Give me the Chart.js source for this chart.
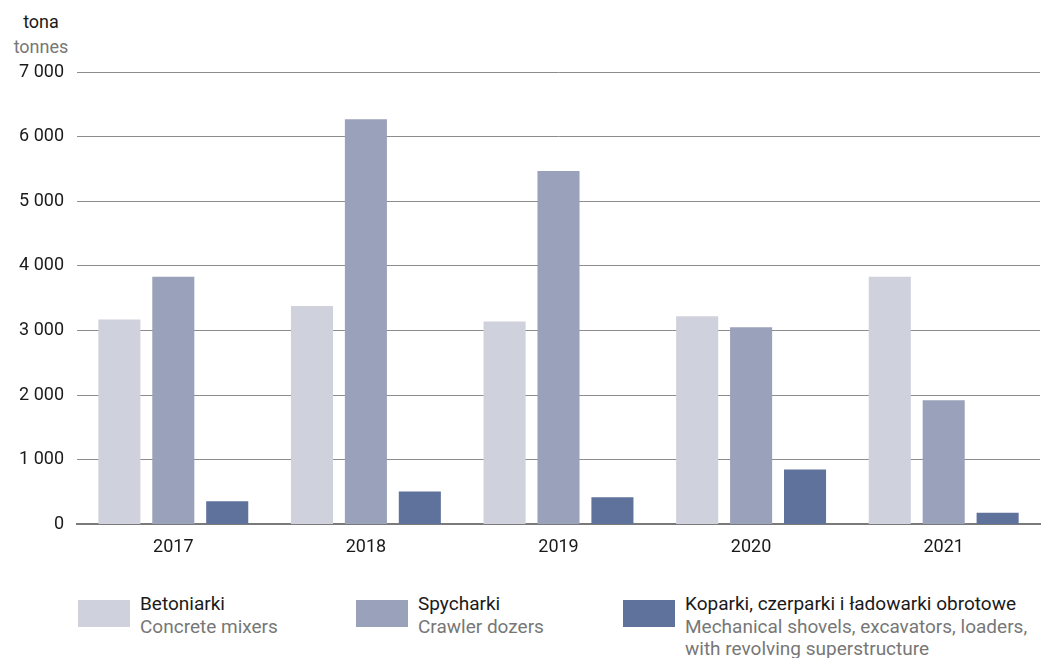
<!DOCTYPE html>
<html lang="pl">
<head>
    <meta charset="UTF-8">
    <title>Betoniarki, spycharki, koparki</title>
    <script src="https://cdn.jsdelivr.net/npm/chart.js"></script>
    <style>
        body {
            margin: 0;
            background: #FFFFFF;
            font-family: Roboto, "Open Sans", sans-serif;
        }
        .wrap {
            position: relative;
            width: 1042px;
            height: 658px;
        }
        .chart-box {
            position: absolute;
            left: 0;
            top: 0;
            width: 1042px;
            height: 570px;
        }
        .unit {
            position: absolute;
            left: 0;
            width: 82px;
            text-align: center;
            font-size: 18px;
        }
        .unit.pl { top: 11px; color: #1a1a1a; }
        .unit.en { top: 36px; color: #777777; }
        .legend-item {
            position: absolute;
            top: 593px;
            font-size: 19px;
            line-height: 22.5px;
        }
        .legend-item .swatch {
            position: absolute;
            left: 0;
            top: 7px;
            width: 52px;
            height: 27px;
        }
        .legend-item .txt {
            position: absolute;
            left: 62px;
            top: 0;
            white-space: nowrap;
        }
        .legend-item .pl { color: #1a1a1a; }
        .legend-item .en { color: #777777; }
    </style>
</head>
<body>
<div class="wrap">
    <div class="unit pl">tona</div>
    <div class="unit en">tonnes</div>
    <div class="chart-box"><canvas id="chart"></canvas></div>
    <div id="legend"></div>
</div>
<script>
    const years = ["2017", "2018", "2019", "2020", "2021"];
    const concreteMixers = [3170, 3380, 3140, 3220, 3830];
    const crawlerDozers = [3830, 6270, 5470, 3050, 1920];
    const shovelsExcavators = [360, 510, 420, 850, 180];
    const yTicks = [0, 1000, 2000, 3000, 4000, 5000, 6000, 7000];

    const series = [
        { data: concreteMixers, color: "#CFD1DD", pl: "Betoniarki", en: ["Concrete mixers"], left: 78 },
        { data: crawlerDozers, color: "#9AA1BA", pl: "Spycharki", en: ["Crawler dozers"], left: 356 },
        { data: shovelsExcavators, color: "#5F729C", pl: "Koparki, czerparki i ładowarki obrotowe",
          en: ["Mechanical shovels, excavators, loaders,", "with revolving superstructure"], left: 623 }
    ];

    // thousands separated with a space, as in the printed tables
    function fmt(v) {
        return String(v).replace(/\B(?=(\d{3})+(?!\d))/g, " ");
    }

    const ctx = document.getElementById("chart").getContext("2d");
    const chart = new Chart(ctx, {
        type: "bar",
        data: {
            labels: years,
            datasets: series.map(s => ({
                label: s.pl,
                data: s.data,
                backgroundColor: s.color,
                borderWidth: 0,
                categoryPercentage: 0.84,
                barPercentage: 0.78
            }))
        },
        options: {
            responsive: true,
            maintainAspectRatio: false,
            animation: false,
            layout: {
                padding: { top: 72, right: 2, bottom: 0, left: 0 }
            },
            plugins: {
                legend: { display: false },
                tooltip: { enabled: false }
            },
            scales: {
                x: {
                    grid: { display: false, drawTicks: false },
                    border: { display: true, color: "#7a7a7a", width: 2 },
                    ticks: {
                        padding: 12,
                        color: "#1a1a1a",
                        font: { family: "Roboto", size: 18 }
                    }
                },
                y: {
                    min: 0,
                    max: 7000,
                    afterBuildTicks: scale => {
                        scale.ticks = yTicks.map(v => ({ value: v }));
                    },
                    afterFit: scale => {
                        scale.width = 77;
                    },
                    grid: { color: "#8c8c8c", lineWidth: 1, drawTicks: false },
                    border: { display: false },
                    ticks: {
                        padding: 13,
                        color: "#1a1a1a",
                        font: { family: "Roboto", size: 18 },
                        callback: v => fmt(v)
                    }
                }
            }
        }
    });

    // legend below the chart, two languages per entry
    const legend = document.getElementById("legend");
    series.forEach(s => {
        const item = document.createElement("div");
        item.className = "legend-item";
        item.style.left = s.left + "px";
        let html = '<div class="swatch" style="background:' + s.color + '"></div><div class="txt">';
        html += '<div class="pl">' + s.pl + '</div>';
        s.en.forEach(line => { html += '<div class="en">' + line + '</div>'; });
        html += '</div>';
        item.innerHTML = html;
        legend.appendChild(item);
    });
</script>
</body>
</html>
